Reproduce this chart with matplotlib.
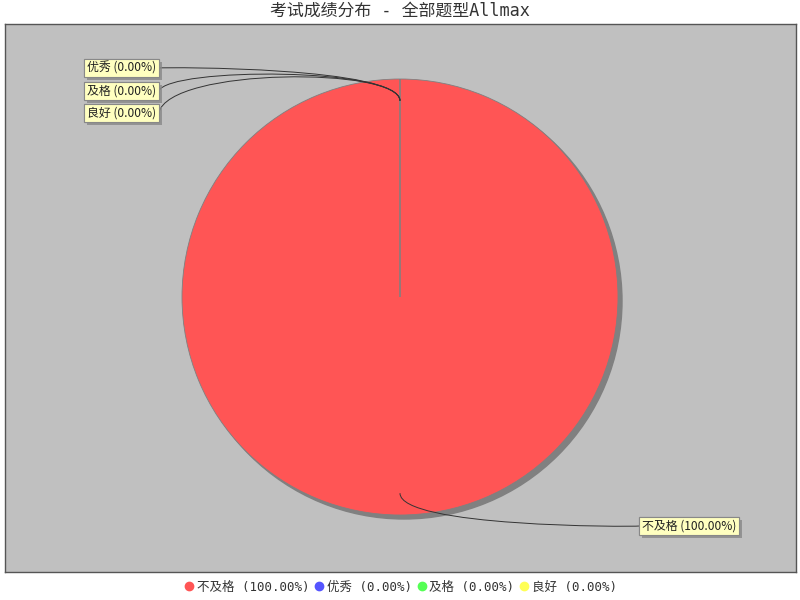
import numpy as np
import matplotlib
matplotlib.use('Agg')
import matplotlib.pyplot as plt
import matplotlib.patheffects as pe
from matplotlib.patches import Circle, PathPatch
from matplotlib.path import Path
from matplotlib.lines import Line2D

plt.rcParams['font.family'] = ['DejaVu Sans Mono', 'Noto Sans CJK SC']

categories = ['不及格', '优秀', '及格', '良好']
values = [100, 0, 0, 0]
colors = ['#FF5555', '#5555FF', '#55FF55', '#FFFF55']
title = '考试成绩分布 - 全部题型Allmax'

total = sum(values)
pcts = [v / total * 100 for v in values]
labels = ['%s (%.2f%%)' % (c, p) for c, p in zip(categories, pcts)]

fig = plt.figure(figsize=(8, 6), dpi=100)
W, H = 791, 548
ax = fig.add_axes([5 / 800, 28 / 600, W / 800, H / 600])
ax.set_facecolor('#C0C0C0')
for s in ax.spines.values():
    s.set_color('#555555')
    s.set_linewidth(1)

cx, cy, r = 395, 275, 218
ax.add_patch(Circle((cx + 4, cy - 4), r, color='#808080', zorder=1))
wedges, _ = ax.pie(values, colors=colors, startangle=90, counterclock=False,
                   center=(cx, cy), radius=r, frame=True,
                   wedgeprops=dict(edgecolor='#808080', linewidth=0.6, zorder=2))
ax.set_xlim(0, W)
ax.set_ylim(0, H)
ax.set_aspect('auto')
ax.set_xticks([])
ax.set_yticks([])

# label box positions: (text x, centre y, side)
label_pos = [(637, 46, 'right'), (82, 504, 'left'), (82, 481, 'left'), (82, 459, 'left')]

start = 90.0
for lab, v, (tx, ty, side) in zip(labels, values, label_pos):
    ang = np.radians(start - v / total * 360 / 2)
    start -= v / total * 360
    t = ax.text(tx, ty, lab, ha='left', va='center', fontsize=8.6, zorder=5, color='#222222',
                family=['Noto Sans CJK SC'],
                bbox=dict(boxstyle='square,pad=0.22', fc='#FFFFC0', ec='#888888', lw=0.8))
    t.get_bbox_patch().set_path_effects(
        [pe.withSimplePatchShadow(offset=(2, -2), shadow_rgbFace='#888888', alpha=0.8), pe.Normal()])
    fig.canvas.draw()
    bb = t.get_bbox_patch().get_window_extent().transformed(ax.transData.inverted())
    if side == 'left':
        target = (bb.x1, ty)
        anchor_x = bb.x1 + 10
    else:
        target = (bb.x0, ty)
        anchor_x = bb.x0 - 10
    link = (cx + np.cos(ang) * r * 0.9, cy + np.sin(ang) * r * 0.9)
    elbow = (cx + np.cos(ang) * r * 1.055, cy + np.sin(ang) * r * 1.055)
    verts = [link, elbow, (anchor_x, elbow[1]), target]
    path = Path(verts, [Path.MOVETO, Path.CURVE4, Path.CURVE4, Path.CURVE4])
    ax.add_patch(PathPatch(path, fc='none', ec='#333333', lw=0.7, zorder=4))

fig.text(0.5, 1 - 11 / 600, title, ha='center', va='center', fontsize=12.2, color='#333333')

handles = [Line2D([], [], marker='o', linestyle='', markersize=6,
                  markerfacecolor=c, markeredgecolor=c) for c in colors]
fig.legend(handles, labels, loc='center', bbox_to_anchor=(0.5, 1 - 587 / 600),
           ncol=4, frameon=False, fontsize=9, handletextpad=0.1, columnspacing=0.3,
           handlelength=1.0, labelcolor='#333333')

fig.savefig('out.png', dpi=100, facecolor='white')
